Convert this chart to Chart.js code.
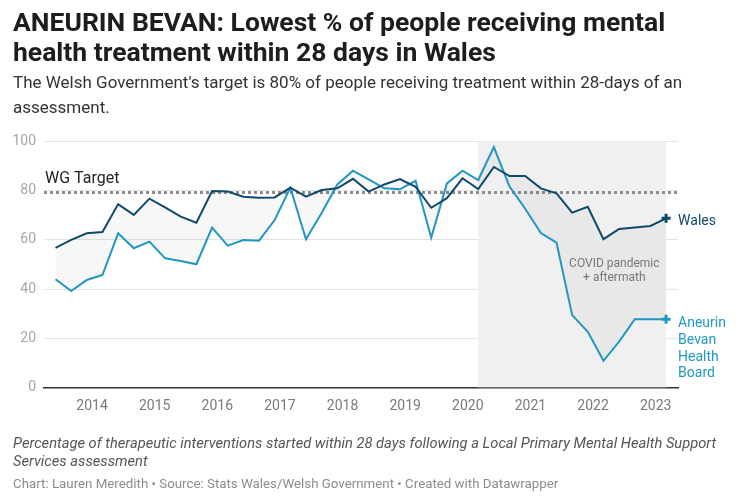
<!DOCTYPE html>
<html>
<head>
<meta charset="utf-8">
<script src="https://cdn.jsdelivr.net/npm/chart.js@4"></script>
<style>
  html, body { margin: 0; padding: 0; background: #fff; }
  body { width: 752px; height: 500px; position: relative; overflow: hidden; font-family: Roboto, "Noto Sans", sans-serif; }
  #chart { position: absolute; left: 0; top: 0; }
  .t { position: absolute; left: 13px; white-space: nowrap; }
  #title { top: 7px; font-size: 26.5px; font-weight: 700; line-height: 29.5px; color: #1d1d1d; }
  #sub { top: 70px; font-size: 17px; line-height: 25px; color: #333; }
  #cap { top: 434px; font-size: 14.7px; font-style: italic; line-height: 18px; color: #555; }
  #cred { top: 476px; font-size: 13.3px; line-height: 16px; color: #8c8c8c; }
</style>
</head>
<body>
<canvas id="chart" width="752" height="500"></canvas>
<div class="t" id="title">ANEURIN BEVAN: Lowest % of people receiving mental<br>health treatment within 28 days in Wales</div>
<div class="t" id="sub">The Welsh Government's target is 80% of people receiving treatment within 28-days of an<br>assessment.</div>
<div class="t" id="cap">Percentage of therapeutic interventions started within 28 days following a Local Primary Mental Health Support<br>Services assessment</div>
<div class="t" id="cred">Chart: Lauren Meredith • Source: Stats Wales/Welsh Government • Created with Datawrapper</div>
<script>
// Quarter-end months of each observation
const quarters = [
  "2013-06","2013-09","2013-12","2014-03","2014-06","2014-09","2014-12","2015-03",
  "2015-06","2015-09","2015-12","2016-03","2016-06","2016-09","2016-12","2017-03",
  "2017-06","2017-09","2017-12","2018-03","2018-06","2018-09","2018-12","2019-03",
  "2019-06","2019-09","2019-12","2020-03","2020-06","2020-09","2020-12","2021-03",
  "2021-06","2021-09","2021-12","2022-03","2022-06","2022-09","2022-12","2023-03"
];
const walesValues = [
  56.8,60.0,62.7,63.2,74.6,70.2,76.8,73.3,
  69.5,67.0,79.9,79.7,77.6,77.2,77.3,81.3,
  77.6,80.3,81.0,84.9,79.7,82.6,84.8,81.6,
  73.1,77.0,85.1,80.7,89.7,86.0,86.0,81.0,
  79.0,71.1,73.5,60.3,64.5,65.1,65.7,68.8
];
const abhbValues = [
  44.0,39.2,43.7,45.7,62.7,56.6,59.3,52.5,
  51.4,50.1,65.0,57.7,60.0,59.7,68.1,81.3,
  60.3,71.0,82.6,88.2,84.7,81.0,80.6,84.1,
  60.9,83.0,88.2,84.4,97.8,81.7,72.7,62.8,
  58.9,29.4,22.6,10.8,18.6,27.7,27.7,27.7
];
const yearTicks = [2014,2015,2016,2017,2018,2019,2020,2021,2022,2023];
const yTicks = [0,20,40,60,80,100];
const targetValue = 79.3;
const covidStart = "2020-03";
const covidEnd = "2023-03";

function toYear(s) { const [y, m] = s.split("-").map(Number); return y + (m - 1) / 12; }
const xs = quarters.map(toYear);
const walesData = xs.map((x, i) => ({ x, y: walesValues[i] }));
const abhbData = xs.map((x, i) => ({ x, y: abhbValues[i] }));
const lastIdx = xs.length - 1;
const endRadius = xs.map((_, i) => i === lastIdx ? 4.5 : 0);

const WALES = "#0f4a6b";
const ABHB = "#2299c4";

const decor = {
  id: "decor",
  beforeDatasetsDraw(chart) {
    const { ctx, chartArea: a, scales: { x, y } } = chart;
    ctx.save();
    const x0 = x.getPixelForValue(toYear(covidStart));
    const x1 = x.getPixelForValue(toYear(covidEnd));
    ctx.fillStyle = "#f0f0f0";
    ctx.fillRect(x0, a.top, x1 - x0, a.bottom - a.top);
    // target line
    const ty = y.getPixelForValue(targetValue);
    ctx.strokeStyle = "#8c8c8c";
    ctx.lineWidth = 3;
    ctx.setLineDash([3, 3]);
    ctx.beginPath();
    ctx.moveTo(a.left, ty);
    ctx.lineTo(a.right, ty);
    ctx.stroke();
    ctx.restore();
  },
  afterDatasetsDraw(chart) {
    const { ctx, chartArea: a, scales: { x, y } } = chart;
    ctx.save();
    ctx.textBaseline = "middle";
    ctx.textAlign = "left";
    ctx.fillStyle = "#222";
    ctx.font = "16px Roboto";
    ctx.fillText("WG Target", a.left + 1, y.getPixelForValue(84.8));
    const lx = x.getPixelForValue(xs[lastIdx]) + 12;
    ctx.font = "14px Roboto";
    ctx.fillStyle = WALES;
    ctx.fillText("Wales", lx, y.getPixelForValue(walesValues[lastIdx]) + 3);
    ctx.fillStyle = ABHB;
    const by = y.getPixelForValue(abhbValues[lastIdx]) + 4.5;
    ["Aneurin", "Bevan", "Health", "Board"].forEach((t, i) => ctx.fillText(t, lx, by + i * 16.7));
    ctx.textAlign = "center";
    ctx.fillStyle = "#777";
    ctx.font = "12px Roboto";
    const cx = x.getPixelForValue(2022.34);
    const cy = y.getPixelForValue(50.3);
    ctx.fillText("COVID pandemic", cx, cy);
    ctx.fillText("+ aftermath", cx, cy + 14);
    ctx.restore();
  }
};

new Chart(document.getElementById("chart"), {
  type: "line",
  data: {
    datasets: [
      {
        label: "Wales",
        data: walesData,
        borderColor: WALES,
        borderWidth: 2,
        pointRadius: endRadius,
        pointStyle: "cross",
        pointBorderWidth: 3,
        pointBorderColor: WALES,
        pointHoverRadius: 0,
        fill: "+1",
        backgroundColor: "rgba(0,0,0,0.03)",
        tension: 0
      },
      {
        label: "Aneurin Bevan Health Board",
        data: abhbData,
        borderColor: ABHB,
        borderWidth: 2,
        pointRadius: endRadius,
        pointStyle: "cross",
        pointBorderWidth: 3,
        pointBorderColor: ABHB,
        pointHoverRadius: 0,
        fill: false,
        tension: 0
      }
    ]
  },
  options: {
    responsive: false,
    animation: false,
    devicePixelRatio: 1,
    layout: { padding: { left: 0, top: 141.7, right: 74, bottom: 0 } },
    plugins: { legend: { display: false }, tooltip: { enabled: false } },
    scales: {
      x: {
        type: "linear",
        min: 2013.233,
        max: 2023.357,
        afterBuildTicks: s => { s.ticks = yearTicks.map(v => ({ value: v })); },
        afterFit: s => { s.height = 112.7; },
        grid: { display: false },
        border: { display: true, color: "#333", width: 1.5 },
        ticks: { padding: 3, color: "#7a7a7a", font: { family: "Roboto", size: 14 }, callback: v => String(v), maxRotation: 0 }
      },
      y: {
        min: 0,
        max: 100,
        afterBuildTicks: s => { s.ticks = yTicks.map(v => ({ value: v })); },
        afterFit: s => { s.width = 44; },
        grid: { color: c => c.tick && c.tick.value === 0 ? "rgba(0,0,0,0)" : "#e4e4e4", lineWidth: 1, drawTicks: false },
        border: { display: false },
        ticks: { padding: 8, color: "#a6a6a6", font: { family: "Roboto", size: 14 } }
      }
    }
  },
  plugins: [decor]
});
</script>
</body>
</html>
